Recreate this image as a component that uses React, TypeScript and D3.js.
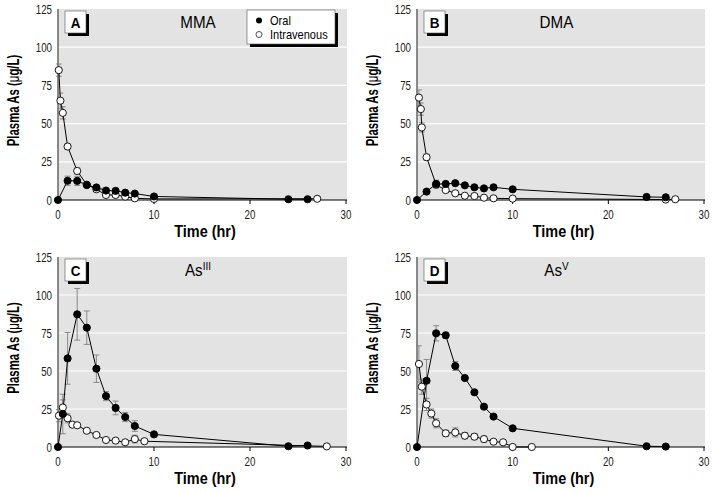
import React from "react";
import * as d3 from "d3";

// MMA
const mmaOralT = [0, 1, 2, 3, 4, 5, 6, 7, 8, 10, 24, 26];
const mmaOralV = [0, 12.6, 12.5, 9.8, 8.2, 6.2, 6, 4.8, 4.2, 2.3, 0.5, 0.5];
const mmaOralE = [0, 3, 3, 1, 1, 1, 0.8, 0.8, 0.8, 0.5, 0, 0];
const mmaIvT = [0.08, 0.25, 0.5, 1, 2, 3, 4, 5, 6, 7, 8, 10, 27];
const mmaIvV = [85, 65, 57, 35, 19, 10, 7, 3.3, 3.3, 2.2, 1.1, 0.7, 0.8];
const mmaIvE = [4, 5, 4, 1.5, 2, 1, 1, 1, 0.5, 0.5, 0.5, 0.3, 0];

// DMA
const dmaOralT = [0, 1, 2, 3, 4, 5, 6, 7, 8, 10, 24, 26];
const dmaOralV = [0, 5.5, 10.5, 10.5, 11, 9.6, 8.3, 7.6, 8.3, 7, 2, 1.8];
const dmaOralE = [0, 1.5, 2.5, 1, 1, 1, 1, 1, 1, 1, 0.5, 0.5];
const dmaIvT = [0.2, 0.4, 0.5, 1, 2, 3, 4, 5, 6, 7, 8, 10, 26, 27];
const dmaIvV = [67, 59.5, 47.5, 28, 10, 6.5, 4.4, 2.8, 2.6, 1.5, 1.1, 0.9, 0.3, 0.5];
const dmaIvE = [5, 4, 3, 2, 2, 1, 1, 0.5, 0.5, 0.5, 0.5, 0.3, 0, 0];

// As(III)
const as3OralT = [0, 0.5, 1, 2, 3, 4, 5, 6, 7, 8, 10, 24, 26];
const as3OralV = [0, 21.7, 58.3, 87.3, 78.5, 51.5, 33.5, 25.7, 19.7, 13.8, 8.3, 0.5, 1];
const as3OralE = [0, 13, 17, 17, 11, 9, 3, 4.5, 3, 3.5, 1, 0.3, 0.3];
const as3IvT = [0.1, 0.5, 1, 1.5, 2, 3, 4, 5, 6, 7, 8, 9, 28];
const as3IvV = [20.6, 26, 18.9, 14.7, 14.3, 10.7, 7.9, 4.6, 4.2, 3.1, 5.2, 3.8, 0.4];
const as3IvE = [4, 5, 3, 1.5, 1.5, 1, 1, 1, 1, 1, 2.5, 1, 0];

// As(V)
const as5OralT = [0, 1, 2, 3, 4, 5, 6, 7, 8, 10, 24, 26];
const as5OralV = [0, 43.6, 74.8, 73.5, 53.3, 45.4, 36, 26.5, 20, 12.3, 0.5, 0.3];
const as5OralE = [0, 14, 5, 2, 3, 1, 1, 1, 1, 1, 0.3, 0];
const as5IvT = [0.2, 0.5, 1, 1.5, 2, 3, 4, 5, 6, 7, 8, 9, 10, 12];
const as5IvV = [54.6, 39.7, 28, 22, 15.6, 9, 9.6, 7.4, 6.8, 5.2, 3.5, 3.1, 0, 0];
const as5IvE = [12, 5, 4, 3, 3, 2, 3, 2, 2, 2, 1, 1, 0, 0];

const xTicks = [0, 10, 20, 30];
const yTicks = [0, 25, 50, 75, 100, 125];

const FONT = "'Liberation Sans', Arial, sans-serif";

const zip = (t: number[], v: number[], e: number[]) =>
  t.map((d, i) => ({ t: d, v: v[i], e: e[i] }));

type Pt = { t: number; v: number; e: number };

// narrow text: no condensed face is installed, so squeeze horizontally
function T({ x, y, sx = 0.8, rot = 0, children, ...rest }: any) {
  return (
    <text transform={`translate(${x},${y})${rot ? ` rotate(${rot})` : ""} scale(${sx},1)`} {...rest}>
      {children}
    </text>
  );
}

function Panel({ left, right, top, bottom, letter, title, sup, oral, iv, legend }: any) {
  const x = d3.scaleLinear().domain([0, 30]).range([left, right]);
  const y = d3.scaleLinear().domain([0, 125]).range([bottom, top]);
  const line = d3
    .line<Pt>()
    .x((d) => x(d.t))
    .y((d) => y(d.v));
  const r = 3.6;

  const errBars = (pts: Pt[]) =>
    pts
      .filter((d) => d.e > 0)
      .map((d, i) => {
        const hi = y(d.v + d.e);
        const lo = y(Math.max(0, d.v - d.e));
        return (
          <g key={i} stroke="#808080" strokeWidth={0.9}>
            <line x1={x(d.t)} x2={x(d.t)} y1={hi} y2={lo} />
            <line x1={x(d.t) - 3} x2={x(d.t) + 3} y1={hi} y2={hi} />
            <line x1={x(d.t) - 3} x2={x(d.t) + 3} y1={lo} y2={lo} />
          </g>
        );
      });

  const midX = (left + right) / 2;
  const midY = (top + bottom) / 2;

  return (
    <g fontFamily={FONT}>
      <rect x={left} y={top} width={right - left + 1} height={bottom - top} fill="#e3e3e3" />
      {yTicks.slice(1, -1).map((t) => (
        <line key={t} x1={left} x2={right + 1} y1={y(t)} y2={y(t)} stroke="#fff" strokeWidth={1.2} />
      ))}
      <line x1={left} x2={left} y1={top} y2={bottom} stroke="#666" strokeWidth={1.5} />
      <line x1={left} x2={right + 1} y1={bottom} y2={bottom} stroke="#000" strokeWidth={1} />
      {xTicks.map((t) => (
        <g key={t}>
          <line x1={x(t)} x2={x(t)} y1={bottom} y2={bottom + 4} stroke="#000" />
          <T x={x(t)} y={bottom + 18.5} sx={0.78} textAnchor="middle" fontSize={12.5} fill="#222">
            {t}
          </T>
        </g>
      ))}
      {yTicks.map((t) => (
        <T key={t} x={left - 6} y={y(t) + 4.5} sx={0.78} textAnchor="end" fontSize={12.5} fill="#222">
          {t}
        </T>
      ))}
      <T x={left - 39} y={midY - 4} rot={-90} sx={0.67} textAnchor="middle" fontSize={17} fontWeight="bold">
        Plasma As (<tspan fontWeight="normal">μ</tspan>g/L)
      </T>
      <T x={midX + 3} y={bottom + 37} sx={0.85} textAnchor="middle" fontSize={17} fontWeight="bold">
        Time (hr)
      </T>
      <T x={midX - 4} y={top + 19} sx={0.95} textAnchor="middle" fontSize={16}>
        {title}
        {sup && (
          <tspan fontSize={10.5} dy={-6}>
            {sup}
          </tspan>
        )}
      </T>
      <rect x={left + 10} y={top + 5} width={21} height={22} fill="#000" />
      <rect x={left + 7} y={top + 2} width={21} height={22} fill="#fff" stroke="#555" strokeWidth={0.6} />
      <T x={left + 17.5} y={top + 19} sx={0.9} textAnchor="middle" fontSize={15} fontWeight="bold">
        {letter}
      </T>

      {errBars(iv)}
      {errBars(oral)}
      <path d={line(iv) ?? ""} fill="none" stroke="#000" strokeWidth={1} />
      <path d={line(oral) ?? ""} fill="none" stroke="#000" strokeWidth={1} />
      {iv.map((d: Pt, i: number) => (
        <circle key={"i" + i} cx={x(d.t)} cy={y(d.v)} r={r} fill="#fff" stroke="#000" strokeWidth={0.9} />
      ))}
      {oral.map((d: Pt, i: number) => (
        <circle key={"o" + i} cx={x(d.t)} cy={y(d.v)} r={r} fill="#000" stroke="#000" strokeWidth={0.9} />
      ))}

      {legend && (
        <g>
          <rect x={250} y={13} width={88} height={34} fill="#000" />
          <rect x={247} y={10} width={88} height={34} fill="#fff" stroke="#555" strokeWidth={0.6} />
          <circle cx={259} cy={20.5} r={3} fill="#000" />
          <circle cx={259} cy={34.5} r={3} fill="#fff" stroke="#000" strokeWidth={0.7} />
          <T x={270} y={25} sx={0.85} fontSize={13}>
            Oral
          </T>
          <T x={270} y={39} sx={0.85} fontSize={13}>
            Intravenous
          </T>
        </g>
      )}
    </g>
  );
}

export default function App() {
  return (
    <svg width={712} height={492} style={{ display: "block", position: "absolute", left: 0, top: 0, background: "#fff" }}>
      <rect width={712} height={492} fill="#fff" />
      <Panel left={58} right={346} top={9} bottom={200} letter="A" title="MMA"
        oral={zip(mmaOralT, mmaOralV, mmaOralE)} iv={zip(mmaIvT, mmaIvV, mmaIvE)} legend />
      <Panel left={417} right={704} top={9} bottom={200} letter="B" title="DMA"
        oral={zip(dmaOralT, dmaOralV, dmaOralE)} iv={zip(dmaIvT, dmaIvV, dmaIvE)} />
      <Panel left={58} right={346} top={257} bottom={447} letter="C" title="As" sup="III"
        oral={zip(as3OralT, as3OralV, as3OralE)} iv={zip(as3IvT, as3IvV, as3IvE)} />
      <Panel left={417} right={704} top={257} bottom={447} letter="D" title="As" sup="V"
        oral={zip(as5OralT, as5OralV, as5OralE)} iv={zip(as5IvT, as5IvV, as5IvE)} />
    </svg>
  );
}
